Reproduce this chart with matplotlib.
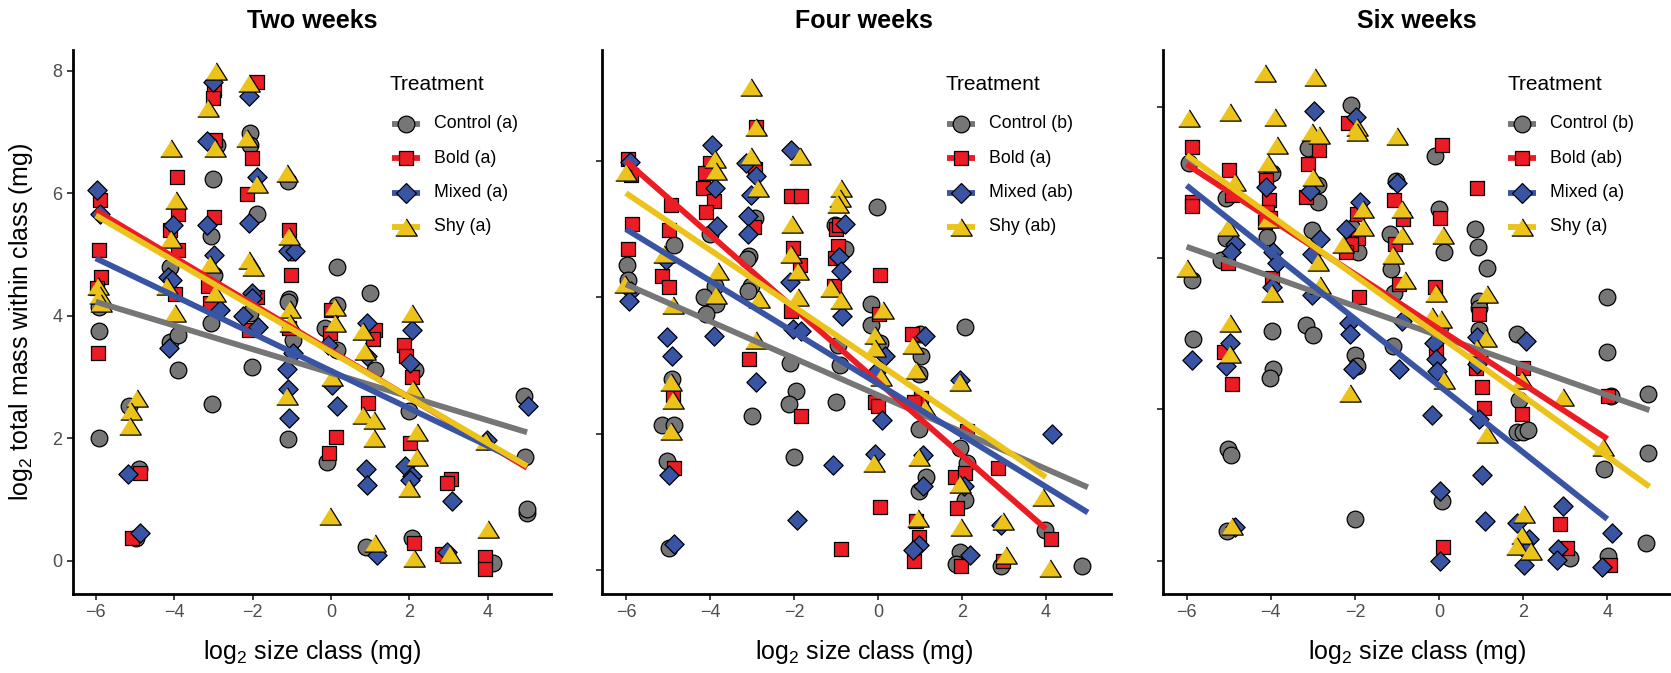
import matplotlib
matplotlib.use("Agg")
import matplotlib.pyplot as plt
from matplotlib.lines import Line2D

plt.rcParams['font.family'] = ['Liberation Sans', 'DejaVu Sans']
plt.rcParams['mathtext.fontset'] = 'custom'
plt.rcParams['mathtext.rm'] = 'Liberation Sans'
plt.rcParams['mathtext.it'] = 'Liberation Sans:italic'

# ---------------- data ----------------
treatments = ["Control", "Bold", "Mixed", "Shy"]
panel_titles = ["Two weeks", "Four weeks", "Six weeks"]
legend_letters = [["a", "a", "a", "a"], ["b", "a", "ab", "ab"], ["b", "ab", "a", "a"]]
x_ticks = [-6, -4, -2, 0, 2, 4]

# Two weeks
two_control_x = [-5.91,-5.91,-5.91,-5.14,-4.90,-4.97,-4.11,-4.11,-3.89,-3.89,-2.92,-3.02,-3.07,-2.98,-3.07,-3.04,-2.07,-2.07,-1.90,-2.07,-2.02,-1.09,-1.00,-1.06,-1.10,-0.96,-1.09,0.15,0.15,-0.15,0.15,-0.11,0.99,1.12,0.89,2.14,2.00,2.06,4.12,4.92,4.95,4.99,5.01]
two_control_y = [4.15,3.76,2.00,2.53,1.50,0.37,4.80,3.58,3.69,3.11,6.79,6.23,5.30,4.66,3.88,2.56,6.99,6.79,5.67,4.04,3.16,6.20,5.04,4.27,4.23,3.61,1.99,4.79,4.18,3.80,3.44,1.62,4.37,3.12,0.23,3.12,2.44,0.37,-0.04,2.69,1.70,0.78,0.84]
two_bold_x = [-5.90,-5.92,-5.87,-5.98,-5.94,-4.87,-5.08,-3.94,-3.90,-4.11,-3.90,-3.98,-2.98,-3.00,-2.96,-2.98,-3.13,-3.09,-1.88,-2.02,-2.13,-1.90,-2.08,-1.06,-1.02,-1.06,-0.01,-0.02,0.13,-0.04,1.12,1.08,0.95,1.86,1.91,2.06,2.02,2.12,3.05,2.95,2.82,3.93,3.93]
two_bold_y = [5.89,5.08,4.63,4.45,3.40,1.44,0.37,6.26,5.67,5.40,5.07,4.36,7.69,7.55,6.87,5.62,4.48,4.21,7.81,6.57,5.99,4.30,3.77,5.40,4.67,3.80,4.10,3.72,2.03,1.76,3.77,3.63,2.57,3.53,3.34,3.01,1.92,0.29,1.33,1.27,0.11,0.06,-0.13]
two_mixed_x = [-5.97,-5.90,-5.17,-4.87,-4.02,-4.15,-4.06,-4.12,-3.02,-3.17,-3.17,-2.98,-2.83,-2.10,-1.90,-2.10,-2.02,-2.02,-2.24,-1.85,-1.10,-0.92,-0.96,-1.11,-1.10,-1.06,-0.07,0.02,0.15,0.91,0.91,0.88,0.91,1.16,2.06,2.02,1.89,2.06,2.02,3.08,2.95,3.97,5.02]
two_mixed_y = [6.05,5.67,1.42,0.45,5.49,4.63,4.59,3.47,7.81,6.85,5.49,5.00,4.10,7.59,6.26,5.51,4.37,4.29,3.99,3.82,5.06,5.06,3.40,3.13,2.80,2.33,3.53,2.87,2.53,3.88,3.34,1.50,1.24,0.10,3.77,3.23,1.55,1.38,1.32,0.97,0.15,1.98,2.53]
two_shy_x = [-5.95,-5.90,-5.87,-4.94,-5.11,-5.13,-4.08,-3.95,-4.08,-3.98,-4.19,-2.93,-3.13,-2.96,-3.09,-2.96,-2.08,-2.13,-1.90,-2.10,-1.98,-1.11,-1.06,-1.05,-1.05,-1.13,0.09,0.09,0.02,-0.02,0.82,0.87,0.82,1.09,1.09,1.12,2.06,2.10,2.19,2.19,2.00,2.12,3.04,3.95,4.01]
two_shy_y = [4.48,4.34,4.21,2.66,2.44,2.20,6.74,5.89,5.25,4.04,4.48,8.00,7.39,6.74,4.85,4.37,7.80,6.90,6.16,4.91,4.80,6.33,5.30,4.12,3.88,2.70,4.15,3.88,3.00,0.73,3.75,3.42,2.38,2.30,2.00,0.29,4.04,2.80,2.11,1.70,1.19,0.05,0.11,1.95,0.52]

# Four weeks
four_control_x = [-5.98,-5.96,-4.85,-4.91,-5.13,-4.86,-5.02,-4.97,-4.01,-3.89,-4.13,-3.85,-4.09,-2.92,-3.06,-3.11,-3.03,-3.10,-3.00,-2.10,-1.94,-2.12,-2.00,-1.03,-0.79,-0.95,-0.91,-0.99,-0.02,-0.16,-0.16,0.04,1.01,1.03,0.98,0.98,1.14,0.98,2.07,1.95,2.11,2.07,1.95,1.87,2.94,3.98,4.85]
four_control_y = [4.48,4.26,4.77,2.80,2.13,2.13,1.60,0.32,4.93,4.17,4.01,3.90,3.76,5.16,4.61,4.56,4.17,4.09,2.25,3.04,2.62,2.44,1.65,5.06,4.71,3.30,3.01,2.46,5.32,3.90,3.59,3.33,3.46,3.14,2.88,2.07,1.36,1.15,3.56,1.78,1.57,1.02,0.26,0.08,0.05,0.59,0.06]
four_bold_x = [-5.94,-5.88,-5.86,-5.94,-4.93,-4.97,-5.13,-4.97,-4.89,-4.86,-4.01,-4.12,-4.17,-3.91,-4.09,-2.90,-2.92,-2.94,-3.06,-2.06,-1.84,-2.02,-1.86,-2.08,-1.82,-1.01,-0.92,-0.95,-1.03,-1.05,-0.87,0.06,0.02,-0.08,0.00,0.04,0.80,1.03,0.87,0.91,0.99,0.87,2.11,1.83,2.07,1.88,1.99,2.86,2.97,4.11]
four_bold_y = [6.03,5.79,5.08,4.71,5.36,4.99,4.31,4.15,2.57,1.49,5.97,5.82,5.61,5.41,5.25,6.50,5.88,5.03,3.09,5.48,5.49,4.73,4.47,3.80,2.25,5.00,5.06,4.76,4.57,4.17,0.31,4.33,3.76,2.46,2.41,0.92,3.46,2.52,2.46,0.71,0.48,0.13,2.04,1.36,1.42,0.90,0.05,1.49,0.13,0.45]
four_mixed_x = [-5.90,-5.88,-5.92,-5.05,-5.03,-4.91,-4.97,-4.86,-3.95,-3.89,-3.83,-3.91,-3.14,-2.90,-3.03,-3.10,-3.10,-2.90,-2.06,-2.10,-2.02,-1.82,-1.93,-0.78,-0.93,-0.87,-0.85,-1.07,0.16,-0.04,0.10,-0.08,1.11,1.07,1.07,0.99,0.83,1.96,2.04,2.19,2.94,4.14]
four_mixed_y = [5.99,4.09,3.94,4.55,3.42,3.14,1.39,0.38,6.24,5.61,5.04,3.43,5.97,5.78,5.50,5.19,4.93,2.75,6.16,4.22,3.54,3.50,0.73,5.08,4.59,4.38,3.73,1.54,3.14,2.91,2.20,1.70,3.43,1.68,1.23,0.36,0.29,2.79,1.23,0.21,0.66,1.99]
four_shy_x = [-6.00,-6.02,-5.09,-4.89,-4.93,-4.89,-4.93,-3.89,-3.85,-3.81,-3.85,-3.03,-2.90,-3.02,-2.86,-2.82,-2.90,-1.86,-2.04,-2.08,-1.90,-1.90,-0.87,-0.91,-0.95,-1.11,-0.89,0.12,-0.06,-0.06,0.08,-0.10,0.83,0.91,1.11,0.99,0.95,1.95,1.95,1.99,2.98,3.06,3.94,4.10]
four_shy_y = [5.84,4.20,4.64,3.88,2.75,2.49,2.04,6.03,5.86,4.38,4.04,7.08,6.50,6.08,5.61,3.98,3.38,6.08,5.07,4.64,4.38,4.01,5.61,5.45,5.37,4.14,3.96,3.82,3.45,3.26,2.83,1.57,3.30,2.93,2.38,1.65,0.76,2.75,1.26,0.63,0.71,0.21,1.07,0.03]

# Six weeks
six_control_x = [-5.94,-5.86,-5.84,-5.07,-5.07,-5.17,-5.01,-4.95,-5.03,-3.98,-4.10,-3.98,-3.94,-4.02,-3.11,-2.87,-2.87,-3.03,-3.15,-2.99,-2.10,-2.06,-1.92,-2.00,-1.96,-2.00,-1.03,-1.17,-1.13,-1.07,-1.10,-0.10,0.00,0.12,0.02,0.08,0.85,0.93,1.13,0.95,0.95,0.95,1.85,1.90,1.86,2.00,2.11,3.11,4.00,3.98,4.08,3.92,4.02,4.97,4.97,4.91]
six_control_y = [5.26,3.71,2.93,4.79,4.27,3.97,1.47,1.40,0.39,5.12,4.28,3.04,2.53,2.41,5.46,4.96,4.74,4.37,3.12,2.98,6.02,4.40,4.08,2.72,2.58,0.55,5.02,4.32,3.85,3.54,2.84,5.35,4.65,4.08,3.09,0.79,4.39,4.15,3.87,3.43,3.34,3.05,2.99,2.13,1.70,1.70,1.73,0.04,3.49,2.76,2.18,1.21,0.06,2.20,1.42,0.23]
six_bold_x = [-5.88,-5.88,-5.86,-4.99,-4.93,-5.01,-5.11,-4.91,-4.11,-4.04,-4.10,-4.02,-4.14,-3.98,-2.85,-3.11,-3.15,-2.16,-1.94,-1.92,-2.10,-2.20,-1.90,-1.07,-0.85,-1.05,-0.95,0.06,0.02,-0.10,-0.08,0.10,0.91,0.95,0.87,1.03,1.07,2.00,1.96,2.87,3.05,4.02,4.06]
six_bold_y = [5.47,4.74,4.69,5.17,4.84,3.94,2.76,2.33,5.03,4.77,4.61,4.53,4.48,3.73,5.43,5.24,4.81,5.79,4.58,4.27,4.19,4.08,3.48,4.77,4.51,4.18,3.66,5.50,4.53,3.62,2.76,0.18,4.92,3.26,2.55,2.29,2.02,2.55,1.94,0.48,0.17,2.18,-0.06]
six_mixed_x = [-5.86,-4.85,-4.95,-4.97,-5.07,-4.85,-4.11,-3.94,-3.86,-3.98,-2.97,-3.07,-2.83,-3.03,-3.03,-1.98,-1.88,-2.20,-2.13,-2.12,-2.04,-1.00,-0.87,-0.95,-0.13,-0.08,-0.04,-0.16,0.02,0.02,0.90,0.91,0.95,1.01,1.09,2.06,1.85,2.14,2.06,2.02,2.95,2.83,2.81,4.12,3.88]
six_mixed_y = [2.65,4.19,4.08,2.88,2.58,0.45,4.94,4.08,3.94,3.62,5.94,4.88,4.25,4.05,3.51,5.87,4.74,4.39,3.14,3.00,2.53,4.99,3.17,2.53,2.88,2.67,2.51,1.92,0.92,-0.01,2.96,2.60,1.87,1.13,0.53,2.91,0.50,0.29,0.13,-0.06,0.72,0.15,0.01,0.36,-0.08]
six_shy_x = [-5.94,-6.00,-4.97,-4.85,-5.01,-4.97,-4.97,-4.93,-4.14,-3.90,-3.86,-4.06,-4.06,-3.98,-2.95,-3.03,-2.85,-2.99,-2.87,-2.83,-1.96,-1.96,-1.80,-1.80,-2.28,-2.12,-0.99,-0.89,-0.87,-1.09,-0.81,0.10,-0.08,-0.16,0.04,0.12,1.13,1.11,0.91,1.13,1.98,2.02,1.98,1.86,2.18,2.95,3.90]
six_shy_y = [5.85,3.87,5.93,5.00,4.41,3.14,2.73,0.46,6.45,5.87,5.50,5.26,4.51,3.54,6.39,5.66,5.63,5.07,3.95,3.64,5.73,5.66,4.65,4.41,4.19,2.22,5.61,4.65,4.30,4.04,3.71,4.30,3.54,3.24,3.19,2.39,3.53,2.95,2.81,1.68,2.39,0.62,0.34,0.20,0.13,2.16,1.50]

# fitted regression lines (start / end), order: Control, Bold, Mixed, Shy
two_fit_x0 = [-6, -6, -6, -6]
two_fit_x1 = [5, 5, 5, 5]
two_fit_y0 = [4.23, 5.72, 4.94, 5.64]
two_fit_y1 = [2.10, 1.52, 1.57, 1.55]
four_fit_x0 = [-6, -6, -6, -6]
four_fit_x1 = [5, 4, 5, 4]
four_fit_y0 = [4.19, 6.00, 5.00, 5.53]
four_fit_y1 = [1.21, 0.60, 0.84, 1.36]
six_fit_x0 = [-6, -6, -6, -6]
six_fit_x1 = [5, 4, 4, 5]
six_fit_y0 = [4.15, 5.24, 4.96, 5.36]
six_fit_y1 = [1.99, 1.61, 0.55, 0.98]

panels = [
    dict(pts=[(two_control_x, two_control_y), (two_bold_x, two_bold_y),
              (two_mixed_x, two_mixed_y), (two_shy_x, two_shy_y)],
         fit=(two_fit_x0, two_fit_x1, two_fit_y0, two_fit_y1)),
    dict(pts=[(four_control_x, four_control_y), (four_bold_x, four_bold_y),
              (four_mixed_x, four_mixed_y), (four_shy_x, four_shy_y)],
         fit=(four_fit_x0, four_fit_x1, four_fit_y0, four_fit_y1)),
    dict(pts=[(six_control_x, six_control_y), (six_bold_x, six_bold_y),
              (six_mixed_x, six_mixed_y), (six_shy_x, six_shy_y)],
         fit=(six_fit_x0, six_fit_x1, six_fit_y0, six_fit_y1)),
]

# ---------------- style ----------------
colors = ['#767676', '#EC1C24', '#3A54A4', '#EBC31A']
TRI = [(-1, -0.8), (1, -0.8), (0, 0.8)]
markers = ['o', 's', 'D', TRI]
msizes = [12.0, 10.0, 9.8, 15.5]
LW = 4.2

W, H = 1671, 673
fig = plt.figure(figsize=(W / 100, H / 100), dpi=100)

def fx(px):
    return px / W

def fy(py):
    return 1 - py / H

ax_px = [(73, 551), (602, 1111), (1163, 1673)]
text_cx = [312, 864, 1417]
top_px, bot_px = 50, 594
ylims = [(-0.54, 8.34), (-0.356, 7.63), (-0.44, 6.75)]
xlims = [(-6.58, 5.61), (-6.57, 5.55), (-6.56, 5.56)]
yticks = [[0, 2, 4, 6, 8], [0, 2, 4, 6], [0, 2, 4, 6]]

legend_px = [(390, 392, 420, 434), (945, 947, 975, 989), (1507, 1508, 1536, 1550)]
entry_y = [124, 158.3, 192.5, 226.7]

for i, p in enumerate(panels):
    l, r = ax_px[i]
    ax = fig.add_axes([fx(l), fy(bot_px), (r - l) / W, (bot_px - top_px) / H])
    for j in range(4):
        xs, ys = p['pts'][j]
        ax.scatter(xs, ys, s=msizes[j] ** 2, marker=markers[j], c=colors[j],
                   edgecolors='black', linewidths=0.9, zorder=2, clip_on=False)
    fx0, fx1, fy0, fy1 = p['fit']
    for j in range(4):
        ax.plot([fx0[j], fx1[j]], [fy0[j], fy1[j]], color=colors[j], lw=LW,
                solid_capstyle='butt', zorder=3)
    ax.set_xlim(*xlims[i])
    ax.set_ylim(*ylims[i])
    ax.set_xticks(x_ticks)
    ax.set_yticks(yticks[i])
    for s in ['top', 'right']:
        ax.spines[s].set_visible(False)
    for s in ['left', 'bottom']:
        ax.spines[s].set_linewidth(2.0)
        ax.spines[s].set_color('black')
    ax.tick_params(axis='both', direction='out', length=4.5, width=1.3,
                   color='#333333', labelsize=13, labelcolor='#4D4D4D', pad=3)
    if i > 0:
        ax.tick_params(axis='y', labelleft=False)

    cx = text_cx[i]
    fig.text(fx(cx), fy(21), panel_titles[i], fontsize=18, fontweight='bold',
             ha='center', va='center')
    fig.text(fx(cx), fy(652), r'$\mathregular{log_2}$ size class (mg)', fontsize=18,
             ha='center', va='center')

    # legend
    tl, k0, k1, lab = legend_px[i]
    fig.text(fx(tl), fy(84), 'Treatment', fontsize=15, ha='left', va='center')
    for j in range(4):
        yy = fy(entry_y[j])
        fig.add_artist(Line2D([fx(k0), fx(k1)], [yy, yy], color=colors[j], lw=LW,
                              solid_capstyle='butt', transform=fig.transFigure))
        fig.add_artist(Line2D([fx((k0 + k1) / 2)], [yy], marker=markers[j],
                              markersize=msizes[j], markerfacecolor=colors[j],
                              markeredgecolor='black', markeredgewidth=0.9,
                              linestyle='none', transform=fig.transFigure))
        fig.text(fx(lab), yy, f"{treatments[j]} ({legend_letters[i][j]})",
                 fontsize=12.8, ha='left', va='center')

fig.text(fx(21), fy(322), r'$\mathregular{log_2}$ total mass within class (mg)',
         fontsize=18, rotation=90, ha='center', va='center')

fig.savefig('out.png', dpi=100)
